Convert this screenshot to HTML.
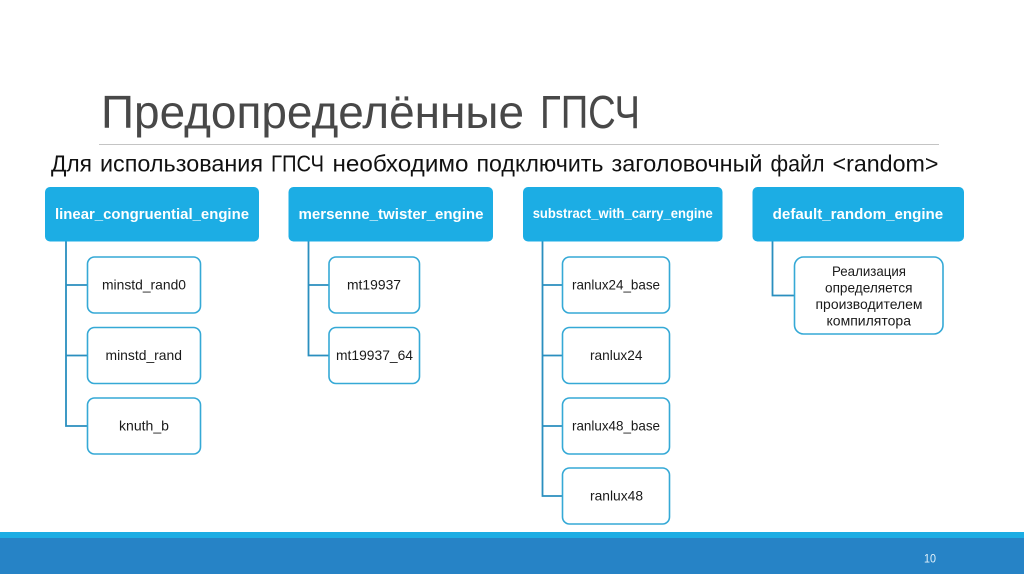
<!DOCTYPE html>
<html>
<head>
<meta charset="utf-8">
<style>
html,body{margin:0;padding:0;background:#fff;width:1024px;height:574px;overflow:hidden}
svg{display:block}
text{font-family:"Liberation Sans","DejaVu Sans",sans-serif}
.h{font-size:15px;font-weight:bold;fill:#fff;stroke:none}
.c{font-size:14px;fill:#1a1a1a;stroke:none}
.s{font-size:23px;fill:#111}
.b{fill:#fff;stroke:#35a9d6;stroke-width:1.6}
.t{fill:#1cade4;stroke:none}
.l{fill:none;stroke:#2a8fbf;stroke-width:1.8}
</style>
</head>
<body>
<svg width="1024" height="574" viewBox="0 0 1024 574" xmlns="http://www.w3.org/2000/svg">
<rect width="1024" height="574" fill="#fff"/>
<text x="101" y="128" font-size="46" fill="#484848" textLength="423" lengthAdjust="spacingAndGlyphs">Предопределённые</text>
<text x="540" y="128" font-size="46" fill="#484848" textLength="100" lengthAdjust="spacingAndGlyphs">ГПСЧ</text>
<line x1="99" y1="144.500" x2="939" y2="144.500" stroke="#c4c4c4" stroke-width="1"/>
<text class="s" x="51" y="171.500" textLength="41" lengthAdjust="spacingAndGlyphs">Для</text>
<text class="s" x="100" y="171.500" textLength="163" lengthAdjust="spacingAndGlyphs">использования</text>
<text class="s" x="271" y="171.500" textLength="53" lengthAdjust="spacingAndGlyphs">ГПСЧ</text>
<text class="s" x="332.500" y="171.500" textLength="136" lengthAdjust="spacingAndGlyphs">необходимо</text>
<text class="s" x="476.500" y="171.500" textLength="127" lengthAdjust="spacingAndGlyphs">подключить</text>
<text class="s" x="611.500" y="171.500" textLength="151" lengthAdjust="spacingAndGlyphs">заголовочный</text>
<text class="s" x="770.500" y="171.500" textLength="54" lengthAdjust="spacingAndGlyphs">файл</text>
<text class="s" x="832.500" y="171.500" textLength="106" lengthAdjust="spacingAndGlyphs">&lt;random&gt;</text>

<path class="l" d="M66 241V426H87M66 285H87M66 355.500H87"/>
<path class="l" d="M308.500 241V355.500H329M308.500 285H329"/>
<path class="l" d="M542.500 241V496H562M542.500 285H562M542.500 355.500H562M542.500 426H562"/>
<path class="l" d="M772.500 241V295.500H794"/>

<rect class="t" x="45" y="187" width="214" height="54.500" rx="5"/>
<rect class="t" x="288.500" y="187" width="204.500" height="54.500" rx="5"/>
<rect class="t" x="523" y="187" width="199.500" height="54.500" rx="5"/>
<rect class="t" x="752.500" y="187" width="211.500" height="54.500" rx="5"/>

<text class="h" x="55" y="219" textLength="194" lengthAdjust="spacingAndGlyphs">linear_congruential_engine</text>
<text class="h" x="298.500" y="219" textLength="185" lengthAdjust="spacingAndGlyphs">mersenne_twister_engine</text>
<text class="h" x="532.700" y="218" style="font-size:14px" textLength="180" lengthAdjust="spacingAndGlyphs">substract_with_carry_engine</text>
<text class="h" x="772.700" y="219" textLength="170.500" lengthAdjust="spacingAndGlyphs">default_random_engine</text>

<rect class="b" x="87.500" y="257" width="113" height="56" rx="7"/>
<rect class="b" x="87.500" y="327.500" width="113" height="56" rx="7"/>
<rect class="b" x="87.500" y="398" width="113" height="56" rx="7"/>
<rect class="b" x="329" y="257" width="90.500" height="56" rx="7"/>
<rect class="b" x="329" y="327.500" width="90.500" height="56" rx="7"/>
<rect class="b" x="562.500" y="257" width="107" height="56" rx="7"/>
<rect class="b" x="562.500" y="327.500" width="107" height="56" rx="7"/>
<rect class="b" x="562.500" y="398" width="107" height="56" rx="7"/>
<rect class="b" x="562.500" y="468" width="107" height="56" rx="7"/>
<rect class="b" x="794.500" y="257" width="148.500" height="77" rx="9"/>

<text class="c" x="102" y="289.500" textLength="84" lengthAdjust="spacingAndGlyphs">minstd_rand0</text>
<text class="c" x="105.500" y="360" textLength="76.500" lengthAdjust="spacingAndGlyphs">minstd_rand</text>
<text class="c" x="119" y="430.500" textLength="50" lengthAdjust="spacingAndGlyphs">knuth_b</text>
<text class="c" x="347" y="289.500" textLength="54" lengthAdjust="spacingAndGlyphs">mt19937</text>
<text class="c" x="336" y="360" textLength="77" lengthAdjust="spacingAndGlyphs">mt19937_64</text>
<text class="c" x="572" y="289.500" textLength="88" lengthAdjust="spacingAndGlyphs">ranlux24_base</text>
<text class="c" x="590" y="360" textLength="52.500" lengthAdjust="spacingAndGlyphs">ranlux24</text>
<text class="c" x="572" y="430.500" textLength="88" lengthAdjust="spacingAndGlyphs">ranlux48_base</text>
<text class="c" x="590" y="500.500" textLength="53" lengthAdjust="spacingAndGlyphs">ranlux48</text>
<text class="c" x="832" y="276" textLength="74" lengthAdjust="spacingAndGlyphs">Реализация</text>
<text class="c" x="825" y="292.500" textLength="87.500" lengthAdjust="spacingAndGlyphs">определяется</text>
<text class="c" x="815.500" y="309" textLength="107" lengthAdjust="spacingAndGlyphs">производителем</text>
<text class="c" x="826.500" y="325.500" textLength="84.500" lengthAdjust="spacingAndGlyphs">компилятора</text>

<rect x="0" y="532" width="1024" height="6" fill="#1cade4"/>
<rect x="0" y="538" width="1024" height="36" fill="#2683c6"/>
<text x="924" y="562.500" font-size="12" fill="#e2f2fb" textLength="12" lengthAdjust="spacingAndGlyphs">10</text>
</svg>
</body>
</html>
